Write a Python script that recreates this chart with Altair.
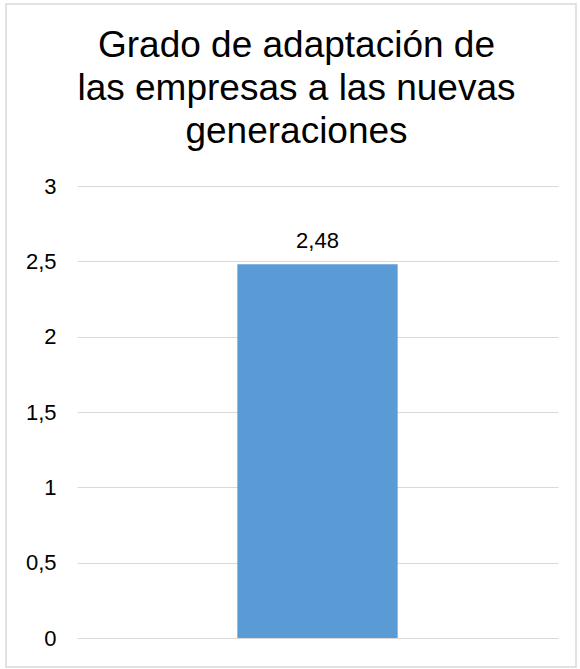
import altair as alt
import pandas as pd

categorias = ["Grado de adaptación"]
valores = [2.48]
ticks_y = [0, 0.5, 1, 1.5, 2, 2.5, 3]
titulo = ["Grado de adaptación de", "las empresas a las nuevas", "generaciones"]

df = pd.DataFrame({"categoria": categorias, "valor": valores})
df_titulo = pd.DataFrame({"texto": ["\n".join(titulo)]})

FONT = "Liberation Sans"

base = alt.Chart(df).encode(
    x=alt.X("categoria:N", axis=None,
            scale=alt.Scale(paddingInner=0.5, paddingOuter=0.5)),
)

bars = base.mark_bar(color="#5B9BD5").encode(
    y=alt.Y("valor:Q",
            scale=alt.Scale(domain=[0, 3]),
            axis=alt.Axis(values=ticks_y, title=None, domain=False, ticks=False,
                          tickSize=0, labelPadding=21, labelFontSize=22,
                          labelFont=FONT, labelColor="#000000",
                          labelExpr="replace(toString(datum.value), '.', ',')",
                          grid=True, gridColor="#D9D9D9", gridWidth=1.2)),
)

labels = base.mark_text(font=FONT, fontSize=22, color="#000000",
                        baseline="alphabetic", dy=-16).encode(
    y=alt.Y("valor:Q"),
    text=alt.Text("etiqueta:N"),
).transform_calculate(
    etiqueta="replace(format(datum.valor, '.2f'), '.', ',')"
)

title_mark = alt.Chart(df_titulo).mark_text(
    font=FONT, fontSize=37, color="#000000", align="center", baseline="top",
    lineBreak="\n", lineHeight=43, clip=False,
).encode(
    text="texto:N", x=alt.value(219.5), y=alt.value(-158)
)

border = alt.Chart(df).mark_rect(fill=None, stroke="#D9D9D9", strokeWidth=1.5,
                                 clip=False).encode(
    x=alt.value(-71), x2=alt.value(499), y=alt.value(-182), y2=alt.value(481)
)

chart = alt.layer(border, bars, labels, title_mark).properties(
    width=481, height=452,
    background="white",
    autosize=alt.AutoSizeParams(type="none"),
    padding={"left": 77, "top": 186, "right": 22, "bottom": 31},
).configure_view(strokeWidth=0, stroke="transparent")

chart.save("out.html", embed_options={"renderer": "svg", "actions": False})
